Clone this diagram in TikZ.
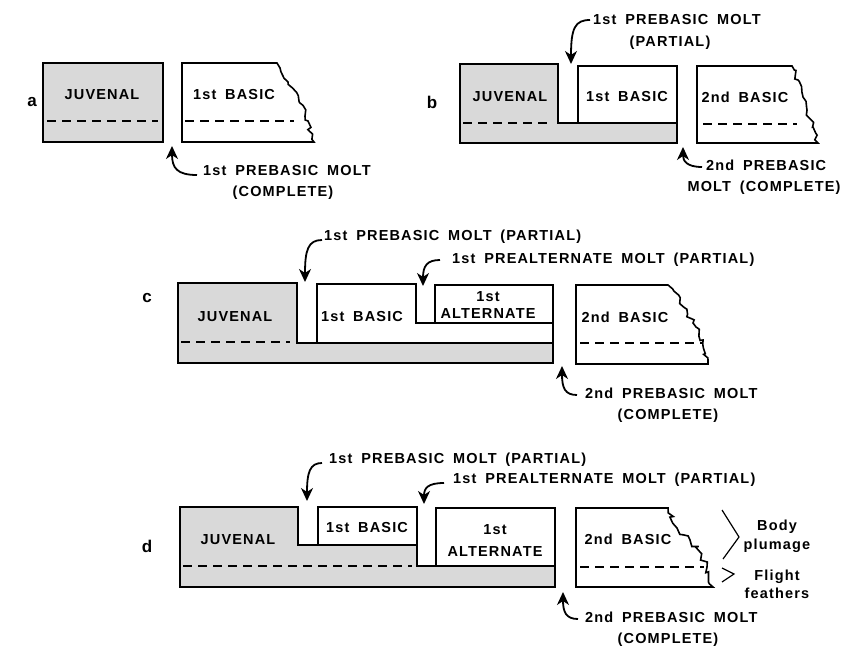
\documentclass[tikz,border=0pt]{standalone}
\usepackage{fontspec}
\newfontfamily\lett{Liberation Sans}[LetterSpace=8,WordSpace=1.7]
\usetikzlibrary{arrows.meta,decorations.pathmorphing}
\begin{document}
\begin{tikzpicture}[x=1pt,y=-1pt,
  box/.style={line width=1.6pt,line join=miter},
  juv/.style={box,fill=gray!30},
  wbox/.style={box,fill=white},
  dline/.style={line width=1.4pt,dash pattern=on 9pt off 6pt},
  molt/.style={-{Stealth[length=13pt,width=12pt,inset=4pt]},line width=1.8pt},
  lbl/.style={font=\lett\bfseries\fontsize{14.5}{16}\selectfont,inner sep=0pt},
  plbl/.style={font=\lett\bfseries\fontsize{17}{19}\selectfont,inner sep=0pt},
  zz/.style={decorate,decoration={random steps,segment length=4pt,amplitude=3pt}},
  chev/.style={line width=1.2pt}]
\useasboundingbox (0,0) rectangle (845,650);
\pgfmathsetseed{11}

% ---------------- panel a ----------------
\node[plbl] (pa) at (32,102) {a};
\draw[juv] (43,63) rectangle (163,142);
\draw[dline] (47,121) -- (158,121);
\node[lbl] (a-juv) at (102,95) {JUVENAL};
\draw[wbox] (182,63) -- (277,63) decorate[zz]{-- (288,82) -- (300,103) -- (308,121) -- (314,142)} -- (182,142) -- cycle;
\draw[dline] (185,121) -- (294,121);
\node[lbl] (a-b1) at (234,95) {1st BASIC};
\node[lbl,anchor=west] (a-m1) at (203,171) {1st PREBASIC MOLT};
\node[lbl] (a-m2) at (283,193) {(COMPLETE)};
\coordinate (a-s) at (197,175);
\coordinate (a-t) at (172,146);
\draw[molt] (a-s) .. controls (177,175) and (172,168) .. (a-t);

% ---------------- panel b ----------------
\node[plbl] (pb) at (432,102) {b};
\draw[juv] (460,64) -- (558,64) -- (558,123) -- (677,123) -- (677,143) -- (460,143) -- cycle;
\draw[dline] (463,123) -- (552,123);
\node[lbl] (b-juv) at (510,97) {JUVENAL};
\draw[wbox] (578,66) rectangle (677,123);
\node[lbl] (b-b1) at (627,97) {1st BASIC};
\draw[wbox] (697,66) -- (792,66) decorate[zz]{-- (798,80) -- (803,97) -- (807,110) -- (813,127) -- (818,143)} -- (697,143) -- cycle;
\draw[dline] (703,124) -- (797,124);
\node[lbl] (b-b2) at (745,97) {2nd BASIC};
\node[lbl,anchor=west] (b-m1) at (593,20) {1st PREBASIC MOLT};
\node[lbl] (b-m2) at (670,43) {(PARTIAL)};
\coordinate (b-s1) at (590,20);
\coordinate (b-t1) at (571,64);
\draw[molt] (b-s1) .. controls (575,20) and (571,28) .. (b-t1);
\node[lbl,anchor=west] (b-m3) at (706,165) {2nd PREBASIC};
\node[lbl] (b-m4) at (764,188) {MOLT (COMPLETE)};
\coordinate (b-s2) at (702,167);
\coordinate (b-t2) at (683,147);
\draw[molt] (b-s2) .. controls (687,167) and (683,161) .. (b-t2);

% ---------------- panel c ----------------
\node[plbl] (pc) at (147,298) {c};
\draw[juv] (178,283) -- (297,283) -- (297,343) -- (553,343) -- (553,363) -- (178,363) -- cycle;
\draw[dline] (181,342) -- (290,342);
\node[lbl] (c-juv) at (235,317) {JUVENAL};
\draw[wbox] (317,284) -- (416,284) -- (416,323) -- (553,323) -- (553,343) -- (317,343) -- cycle;
\node[lbl] (c-b1) at (362,317) {1st BASIC};
\draw[wbox] (435,285) rectangle (553,323);
\node[lbl] (c-a1) at (488,297) {1st};
\node[lbl] (c-a2) at (488,314) {ALTERNATE};
\draw[wbox] (576,285) -- (668,285) decorate[zz]{-- (680,300) -- (693,323) -- (703,340) -- (708,364)} -- (576,364) -- cycle;
\draw[dline] (580,343) -- (702,343);
\node[lbl] (c-b2) at (625,317) {2nd BASIC};
\node[lbl,anchor=west] (c-m1) at (324,237) {1st PREBASIC MOLT (PARTIAL)};
\coordinate (c-s1) at (322,240);
\coordinate (c-t1) at (305,282);
\draw[molt] (c-s1) .. controls (308,240) and (305,250) .. (c-t1);
\node[lbl,anchor=west] (c-m2) at (452,260) {1st PREALTERNATE MOLT (PARTIAL)};
\coordinate (c-s2) at (440,260);
\coordinate (c-t2) at (423,286);
\draw[molt] (c-s2) .. controls (427,260) and (423,266) .. (c-t2);
\node[lbl,anchor=west] (c-m3) at (585,393) {2nd PREBASIC MOLT};
\node[lbl] (c-m4) at (668,416) {(COMPLETE)};
\coordinate (c-s3) at (577,395);
\coordinate (c-t3) at (562,366);
\draw[molt] (c-s3) .. controls (565,395) and (562,388) .. (c-t3);

% ---------------- panel d ----------------
\node[plbl] (pd) at (147,546) {d};
\draw[juv] (180,507) -- (298,507) -- (298,545) -- (417,545) -- (417,566) -- (555,566) -- (555,587) -- (180,587) -- cycle;
\draw[dline] (183,566) -- (412,566);
\node[lbl] (d-juv) at (238,540) {JUVENAL};
\draw[wbox] (318,507) rectangle (417,545);
\node[lbl] (d-b1) at (367,528) {1st BASIC};
\draw[wbox] (436,508) rectangle (555,566);
\node[lbl] (d-a1) at (495,530) {1st};
\node[lbl] (d-a2) at (495,552) {ALTERNATE};
\draw[wbox] (576,508) -- (668,508) decorate[zz]{-- (677,528) -- (690,540) -- (700,552) -- (707,567) -- (713,587)} -- (576,587) -- cycle;
\draw[dline] (580,567) -- (704,567);
\node[lbl] (d-b2) at (628,539) {2nd BASIC};
\draw[chev] (722,510) -- (739,537) -- (723,559);
\draw[chev] (722,568) -- (734,574) -- (722,582);
\node[lbl] (d-bo) at (777,527) {Body};
\node[lbl] (d-pl) at (777,546) {plumage};
\node[lbl] (d-fl) at (777,577) {Flight};
\node[lbl] (d-fe) at (777,593) {feathers};
\node[lbl,anchor=west] (d-m1) at (329,460) {1st PREBASIC MOLT (PARTIAL)};
\coordinate (d-s1) at (322,463);
\coordinate (d-t1) at (307,501);
\draw[molt] (d-s1) .. controls (310,463) and (307,472) .. (d-t1);
\node[lbl,anchor=west] (d-m2) at (453,480) {1st PREALTERNATE MOLT (PARTIAL)};
\coordinate (d-s2) at (444,483);
\coordinate (d-t2) at (424,504);
\draw[molt] (d-s2) .. controls (428,483) and (424,488) .. (d-t2);
\node[lbl,anchor=west] (d-m3) at (585,617) {2nd PREBASIC MOLT};
\node[lbl] (d-m4) at (668,640) {(COMPLETE)};
\coordinate (d-s3) at (578,619);
\coordinate (d-t3) at (563,592);
\draw[molt] (d-s3) .. controls (566,619) and (563,612) .. (d-t3);
\end{tikzpicture}
\end{document}
